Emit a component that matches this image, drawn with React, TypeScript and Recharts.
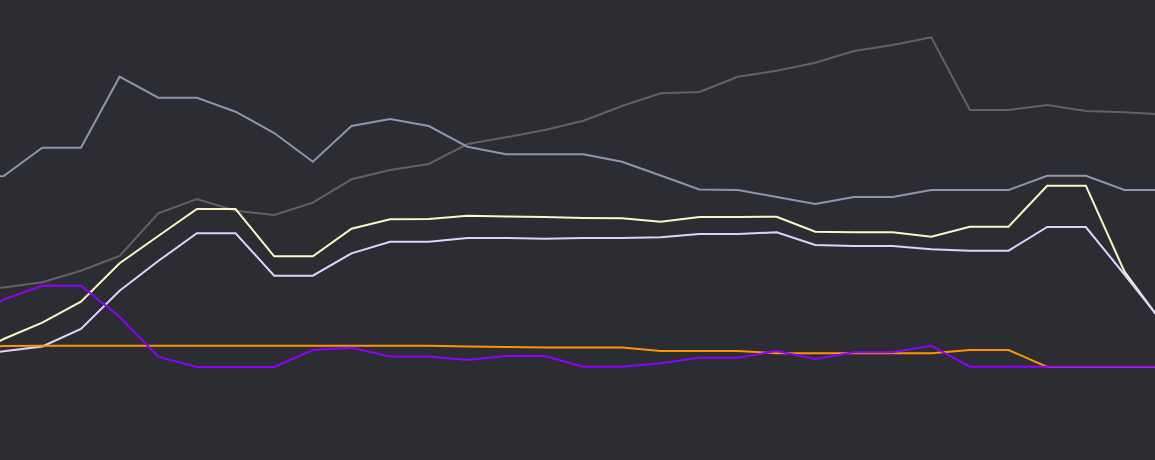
import React from "react";
import { LineChart, Line, XAxis, YAxis } from "recharts";

const categories = [
  "P00","P01","P02","P03","P04","P05","P06","P07","P08","P09","P10",
  "P11","P12","P13","P14","P15","P16","P17","P18","P19","P20","P21",
  "P22","P23","P24","P25","P26","P27","P28","P29","P30","P31",
];

const seriesSlate = [282,284,312.3,312.3,383.3,362.3,362.3,348.3,327,298.3,334,341,334,313.3,305.7,305.7,305.7,298.3,284.5,270.5,270,263,256,263,263,270,270,270,284.3,284.3,270,270];
const seriesGray = [170,172.5,177.7,189.3,204,246.7,261,249.3,245,257.3,280.7,290,296,316,322.7,330,339.3,354,366.7,368,383.3,389.3,397.3,409,415,422.7,350,350,355,349,347.7,345.5];
const seriesCream = [102,121,137.3,158.3,196.7,224,251,251,203.7,203.7,231.3,240.7,241,244.3,243.5,243,242,241.7,238.3,243,243,243.3,228.3,227.7,227.7,223.3,233.3,233.3,274.3,274.3,188.3,136];
const seriesLavender = [103,108.7,113.5,131,169.3,199,226.7,226.7,184.3,184.3,206.7,218.3,218.3,222,222,221.3,222,222,222.7,226,226,227.7,215,214,214,210.7,209.3,209.3,233,233,185.5,137];
const seriesOrange = [112,114,114.3,114.3,114.3,114.3,114.3,114.3,114.3,114.3,114.3,114.3,114.3,113.5,113,112.5,112.5,112.5,109,109,109,106.7,106.7,106.7,106.7,106.7,110,110,93,93,93,93];
const seriesViolet = [132,160.7,174.3,174.3,143.3,103.3,93,93,93,110,112.3,103.5,103.5,100,104,104,93.3,93.3,96.7,102.3,102.3,109,101,107.7,107.7,114.3,93.3,93.3,93.3,93.3,93.3,93.3];

const data = categories.map((c, i) => ({
  name: c,
  slate: seriesSlate[i],
  gray: seriesGray[i],
  cream: seriesCream[i],
  lavender: seriesLavender[i],
  orange: seriesOrange[i],
  violet: seriesViolet[i],
}));

const lines = [
  { key: "gray", color: "#626266" },
  { key: "slate", color: "#9293ac" },
  { key: "cream", color: "#fbf8c6" },
  { key: "lavender", color: "#dcd4ff" },
  { key: "orange", color: "#ff9400" },
  { key: "violet", color: "#8f00ff" },
];

export default function App() {
  return (
    <div
      style={{
        position: "fixed",
        left: 0,
        top: 0,
        width: 1155,
        height: 460,
        overflow: "hidden",
        background: "#2c2d33",
      }}
    >
      <div style={{ position: "absolute", left: -35.15, top: 0 }}>
        <LineChart
          width={1198.15}
          height={460}
          data={data}
          margin={{ top: 0, right: 0, bottom: 0, left: 0 }}
        >
          <XAxis dataKey="name" hide padding={{ left: 0, right: 0 }} />
          <YAxis hide domain={[0, 460]} />
          {lines.map((l) => (
            <Line
              key={l.key}
              type="linear"
              dataKey={l.key}
              stroke={l.color}
              strokeWidth={2}
              dot={false}
              activeDot={false}
              isAnimationActive={false}
            />
          ))}
        </LineChart>
      </div>
    </div>
  );
}
